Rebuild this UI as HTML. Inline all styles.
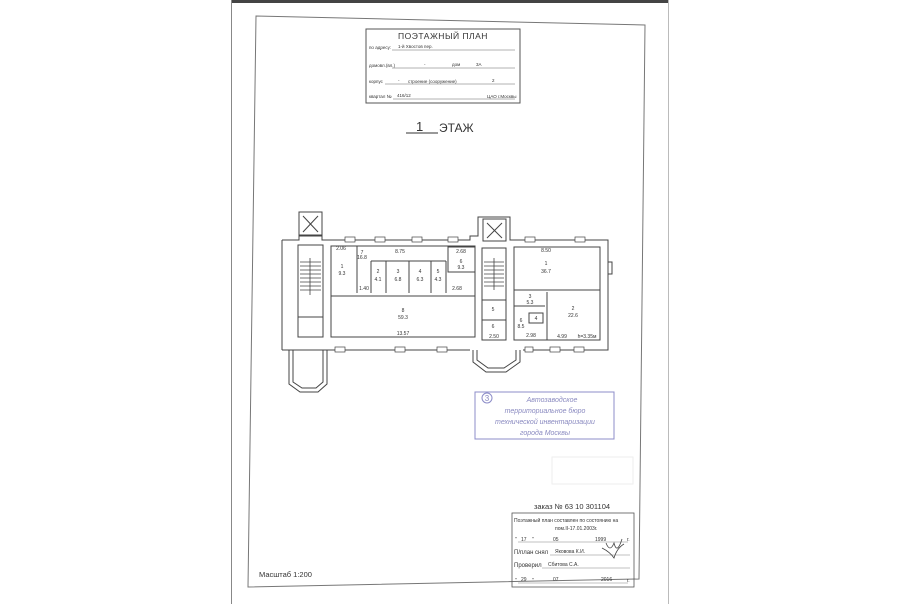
<!DOCTYPE html>
<html><head><meta charset="utf-8"><style>
html,body{margin:0;padding:0;background:#fff}
svg{display:block}
text{font-family:"Liberation Sans",sans-serif;fill:#333}
</style></head><body>
<svg width="900" height="604" viewBox="0 0 900 604" xmlns="http://www.w3.org/2000/svg">
<rect x="0" y="0" width="900" height="604" fill="#fff"/>
<rect x="231" y="0" width="438" height="3" fill="#444"/>
<line x1="231.5" y1="0" x2="231.5" y2="604" stroke="#888" stroke-width="1"/>
<line x1="668.5" y1="0" x2="668.5" y2="604" stroke="#bbb" stroke-width="1"/>
<polygon points="256,16 645,25 639,579 248,587" fill="none" stroke="#777" stroke-width="1"/>
<rect x="366" y="29" width="154" height="74" fill="none" stroke="#555" stroke-width="1"/>
<text x="443" y="39" font-size="8.5" text-anchor="middle" letter-spacing="0.5">ПОЭТАЖНЫЙ ПЛАН</text>
<g font-size="4.5">
<text x="369" y="49">по адресу:</text><text x="398" y="48">1-й Хвостов пер.</text>
<line x1="392" y1="50" x2="515" y2="50" stroke="#666" stroke-width="0.5"/>
<text x="369" y="67">домовл.(вл.)</text><text x="424" y="66">-</text><text x="452" y="66">дом</text><text x="476" y="66">3А</text>
<line x1="392" y1="68" x2="515" y2="68" stroke="#666" stroke-width="0.5"/>
<text x="369" y="83">корпус</text><text x="398" y="82">-</text><text x="408" y="83">строение (сооружение)</text><text x="492" y="82">2</text>
<line x1="385" y1="84" x2="515" y2="84" stroke="#666" stroke-width="0.5"/>
<text x="369" y="98">квартал №</text><text x="397" y="97">416/12</text><text x="487" y="98">ЦАО г.Москвы</text>
<line x1="393" y1="99" x2="515" y2="99" stroke="#666" stroke-width="0.5"/>
</g>
<text x="416" y="131" font-size="13">1</text>
<line x1="406" y1="133" x2="438" y2="133" stroke="#333" stroke-width="1"/>
<text x="439" y="132" font-size="12">ЭТАЖ</text>

<g fill="none" stroke="#444" stroke-width="1">
<rect x="299" y="212" width="23" height="24"/>
<line x1="303" y1="216" x2="318" y2="232"/><line x1="318" y1="216" x2="303" y2="232"/>
<polyline points="282,240 299,240 299,235 322,235 322,240 470,240 470,236 478,236 478,217 510,217 510,240 608,240 608,350 523,350"/>
<rect x="483" y="219" width="23" height="22"/>
<line x1="487" y1="223" x2="502" y2="238"/><line x1="502" y1="223" x2="487" y2="238"/>
<polyline points="282,350 470,350"/>
<line x1="282" y1="240" x2="282" y2="350"/>
<rect x="298" y="245" width="25" height="92"/>
<g stroke-width="0.8">
<line x1="300" y1="262" x2="321" y2="262"/><line x1="300" y1="266" x2="321" y2="266"/><line x1="300" y1="270" x2="321" y2="270"/><line x1="300" y1="274" x2="321" y2="274"/><line x1="300" y1="278" x2="321" y2="278"/><line x1="300" y1="282" x2="321" y2="282"/><line x1="300" y1="286" x2="321" y2="286"/><line x1="300" y1="290" x2="321" y2="290"/>
<line x1="310" y1="258" x2="310" y2="295"/>
</g>
<line x1="298" y1="317" x2="323" y2="317"/>
<rect x="331" y="246" width="144" height="91"/>
<line x1="331" y1="296" x2="475" y2="296"/>
<line x1="357" y1="246" x2="357" y2="293"/>
<line x1="371" y1="261" x2="371" y2="293"/><line x1="371" y1="261" x2="446" y2="261"/>
<line x1="386" y1="261" x2="386" y2="293"/><line x1="409" y1="261" x2="409" y2="293"/><line x1="431" y1="261" x2="431" y2="293"/><line x1="446" y1="261" x2="446" y2="293"/>
<rect x="448" y="247" width="27" height="25"/>
<rect x="482" y="248" width="24" height="92"/>
<g stroke-width="0.8">
<line x1="484" y1="262" x2="504" y2="262"/><line x1="484" y1="266" x2="504" y2="266"/><line x1="484" y1="270" x2="504" y2="270"/><line x1="484" y1="274" x2="504" y2="274"/><line x1="484" y1="278" x2="504" y2="278"/><line x1="484" y1="282" x2="504" y2="282"/><line x1="484" y1="286" x2="504" y2="286"/>
<line x1="494" y1="258" x2="494" y2="290"/>
</g>
<line x1="482" y1="300" x2="506" y2="300"/><line x1="482" y1="320" x2="506" y2="320"/>
<rect x="514" y="247" width="86" height="93"/>
<line x1="514" y1="290" x2="600" y2="290"/>
<line x1="547" y1="292" x2="547" y2="340"/>
<line x1="514" y1="306" x2="545" y2="306"/>
<rect x="529" y="313" width="14" height="10"/>
<rect x="608" y="262" width="4" height="12"/>
<polyline points="289,350 289,384 300,392 318,392 327,384 327,350"/>
<polyline points="293,350 293,382 302,388 316,388 323,382 323,350"/>
<polyline points="473,350 473,362 486,372 506,372 520,362 520,350"/>
<polyline points="477,350 477,360 488,368 504,368 516,360 516,350"/>
</g>
<g fill="#fff" stroke="#444" stroke-width="0.7">
<rect x="345" y="237" width="10" height="5"/><rect x="375" y="237" width="10" height="5"/><rect x="412" y="237" width="10" height="5"/><rect x="448" y="237" width="10" height="5"/>
<rect x="525" y="237" width="10" height="5"/><rect x="575" y="237" width="10" height="5"/>
<rect x="335" y="347" width="10" height="5"/><rect x="395" y="347" width="10" height="5"/><rect x="437" y="347" width="10" height="5"/>
<rect x="525" y="347" width="8" height="5"/><rect x="550" y="347" width="10" height="5"/><rect x="574" y="347" width="10" height="5"/>
</g>
<g font-size="5" text-anchor="middle">
<text x="341" y="250">2.06</text><text x="342" y="268">1</text><text x="342" y="275">9.3</text>
<text x="362" y="254">7</text><text x="362" y="259">16.8</text><text x="400" y="253">8.75</text>
<text x="378" y="273">2</text><text x="378" y="281">4.1</text>
<text x="398" y="273">3</text><text x="398" y="281">6.8</text>
<text x="420" y="273">4</text><text x="420" y="281">6.3</text>
<text x="438" y="273">5</text><text x="438" y="281">4.3</text>
<text x="461" y="253">2.68</text><text x="461" y="263">6</text><text x="461" y="269">9.3</text>
<text x="457" y="290">2.68</text><text x="364" y="290">1.40</text>
<text x="403" y="312">8</text><text x="403" y="319">59.3</text>
<text x="403" y="335">13.57</text>
<text x="546" y="252">8.50</text><text x="546" y="265">1</text><text x="546" y="273">36.7</text>
<text x="530" y="298">3</text><text x="530" y="304">5.3</text>
<text x="521" y="322">6</text><text x="521" y="328">8.5</text>
<text x="536" y="320">4</text>
<text x="573" y="310">2</text><text x="573" y="317">22.6</text>
<text x="531" y="337">2.98</text><text x="562" y="338">4.99</text><text x="587" y="338">h=3.35м</text>
<text x="493" y="311">5</text><text x="493" y="328">6</text><text x="494" y="338">2.50</text>
</g>
<g stroke="#8c8cc8" fill="none" stroke-width="1">
<rect x="475" y="392" width="139" height="47"/>
<circle cx="487" cy="398" r="5"/>
</g>
<text x="487" y="401" font-size="8" text-anchor="middle" style="fill:#8a8ac0">3</text>
<g font-size="7" font-style="italic" text-anchor="middle" font-family="Liberation Serif,serif">
<text x="552" y="402" style="fill:#8a8ac0">Автозаводское</text>
<text x="545" y="413" style="fill:#8a8ac0">территориальное бюро</text>
<text x="545" y="424" style="fill:#8a8ac0">технической инвентаризации</text>
<text x="545" y="435" style="fill:#8a8ac0">города Москвы</text>
</g>
<rect x="552" y="457" width="81" height="27" fill="none" stroke="#eee"/>
<text x="572" y="509" font-size="7.5" text-anchor="middle">заказ № 63 10 301104</text>
<rect x="512" y="513" width="122" height="74" fill="none" stroke="#555" stroke-width="0.8"/>
<g font-size="5">
<text x="514" y="522">Поэтажный план составлен по состоянию на</text>
<text x="555" y="530">пом.II-17.01.2003г.</text>
<text x="515" y="541">"</text><text x="521" y="541">17</text><text x="532" y="541">"</text><text x="553" y="541">05</text><text x="595" y="541">1999</text><text x="627" y="541">г.</text>
<line x1="518" y1="542" x2="628" y2="542" stroke="#666" stroke-width="0.4"/>
<text x="514" y="554" font-size="6">П/план снял</text><text x="555" y="553">Яковова К.И.</text>
<line x1="550" y1="555" x2="630" y2="555" stroke="#666" stroke-width="0.4"/>
<text x="514" y="567" font-size="6">Проверил</text><text x="548" y="566">Сбитова С.А.</text>
<line x1="542" y1="568" x2="630" y2="568" stroke="#666" stroke-width="0.4"/>
<text x="515" y="582">"</text><text x="521" y="581">29</text><text x="532" y="582">"</text><text x="553" y="581">07</text><text x="601" y="581">2016</text><text x="627" y="582">г.</text>
<line x1="518" y1="583" x2="628" y2="583" stroke="#666" stroke-width="0.4"/>
</g>
<path d="M606,543 q4,10 8,0 q3,12 8,-4" fill="none" stroke="#444" stroke-width="0.8"/>
<path d="M602,548 q8,4 12,10 q3,-10 10,-14" fill="none" stroke="#444" stroke-width="0.8"/>
<text x="259" y="577" font-size="7.5">Масштаб 1:200</text>
</svg>
</body></html>
